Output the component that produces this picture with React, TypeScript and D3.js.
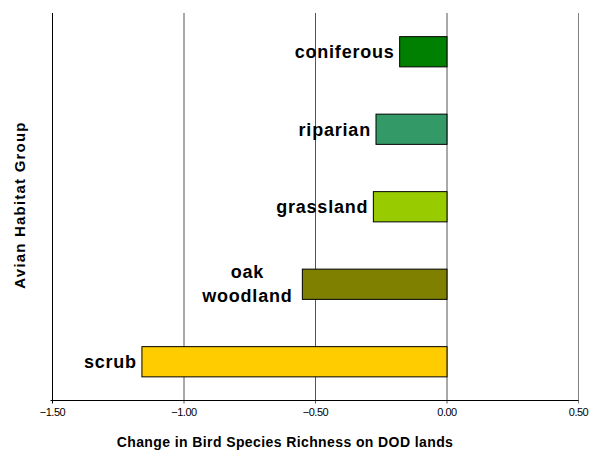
import React from "react";
import * as d3 from "d3";

const categories = ["coniferous", "riparian", "grassland", "oak woodland", "scrub"];
const values = [-0.18, -0.27, -0.28, -0.55, -1.16];
const colors = ["#008000", "#339966", "#99CC00", "#808000", "#FFCC00"];
const xTicks = [-1.5, -1.0, -0.5, 0.0, 0.5];

const W = 592;
const H = 453;
const left = 52.5;
const right = 578.5;
const top = 13;
const bottom = 400.5;

export default function App() {
  const x = d3.scaleLinear().domain([-1.5, 0.5]).range([left, right]);
  const y = d3
    .scaleBand<string>()
    .domain(categories)
    .range([top, bottom])
    .paddingInner(0.61)
    .paddingOuter(0.305);
  const font = "Liberation Sans, Arial, sans-serif";
  const labelSize = 18;
  const labelSpacing = "0.8";
  return (
    <svg
      width={W}
      height={H}
      style={{ position: "absolute", left: 0, top: 0, background: "#fff" }}
      fontFamily={font}
    >
      {xTicks.slice(1).map((t) => (
        <line
          key={"g" + t}
          x1={x(t)}
          x2={x(t)}
          y1={top}
          y2={bottom + 3}
          stroke={t === 0.5 ? "#808080" : "#555"}
          strokeWidth={1}
        />
      ))}
      {categories.map((c, i) => {
        const v = values[i];
        const x0 = x(Math.min(0, v));
        const x1 = x(Math.max(0, v));
        const by = y(c)!;
        const bh = y.bandwidth();
        const lines = c === "oak woodland" ? ["oak", "woodland"] : [c];
        const cy = by + bh / 2;
        const lx = x0 - 5;
        return (
          <g key={c}>
            <rect
              x={x0}
              y={by}
              width={x1 - x0}
              height={bh}
              fill={colors[i]}
              stroke="#000"
              strokeWidth={1}
            />
            {lines.length === 1 ? (
              <text
                x={lx}
                y={cy + 6.5}
                textAnchor="end"
                fontSize={labelSize}
                fontWeight="bold"
                letterSpacing={labelSpacing}
              >
                {c}
              </text>
            ) : (
              <g>
                <text
                  x={lx - 50}
                  y={cy - 6.5}
                  textAnchor="middle"
                  fontSize={labelSize}
                  fontWeight="bold"
                  letterSpacing={labelSpacing}
                >
                  {lines[0]}
                </text>
                <text
                  x={lx - 50}
                  y={cy + 17.5}
                  textAnchor="middle"
                  fontSize={labelSize}
                  fontWeight="bold"
                  letterSpacing={labelSpacing}
                >
                  {lines[1]}
                </text>
              </g>
            )}
          </g>
        );
      })}
      <line x1={left} x2={left} y1={top} y2={bottom} stroke="#000" strokeWidth={1} />
      <line x1={left - 2} x2={right} y1={bottom} y2={bottom} stroke="#000" strokeWidth={1} />
      <line x1={left} x2={left} y1={bottom} y2={bottom + 3} stroke="#000" strokeWidth={1} />
      {xTicks.map((t) => (
        <text
          key={"t" + t}
          x={x(t)}
          y={416}
          textAnchor="middle"
          fontSize={11}
          letterSpacing="-0.5"
        >
          {d3.format(".2f")(t)}
        </text>
      ))}
      <text
        x={285}
        y={447}
        textAnchor="middle"
        fontSize={14}
        fontWeight="bold"
        letterSpacing="0.4"
      >
        Change in Bird Species Richness on DOD lands
      </text>
      <text
        transform={`translate(25, 205) rotate(-90)`}
        textAnchor="middle"
        fontSize={15}
        fontWeight="bold"
        letterSpacing="1.2"
      >
        Avian Habitat Group
      </text>
    </svg>
  );
}
